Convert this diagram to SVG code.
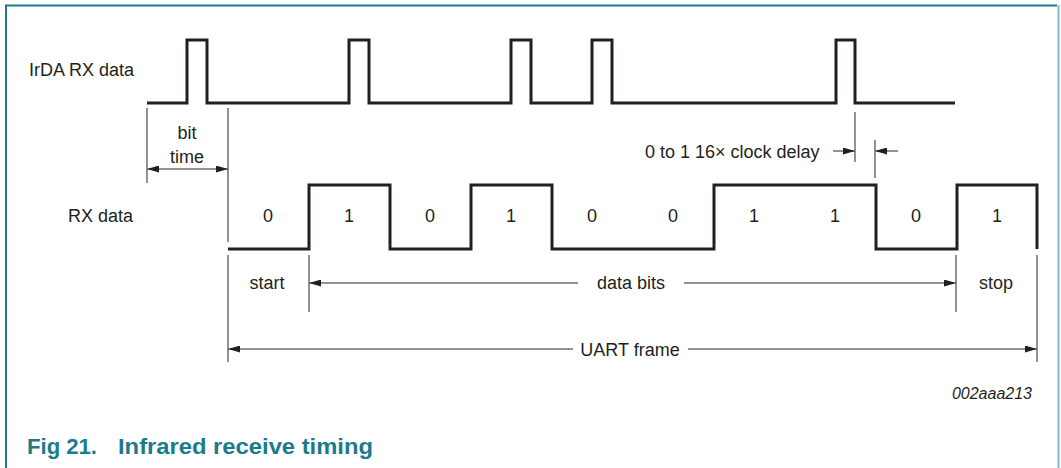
<svg xmlns="http://www.w3.org/2000/svg" width="1061" height="468" viewBox="0 0 1061 468">
<style>
.sig{fill:none;stroke:#231f20;stroke-width:3;stroke-linejoin:miter}
.dim{fill:none;stroke:#6d6e71;stroke-width:1.5}
.t{font-family:"Liberation Sans",Arial,sans-serif;font-size:18px;fill:#231f20}
.c{text-anchor:middle}
.ref{font-family:"Liberation Sans",Arial,sans-serif;font-size:16px;font-style:italic;fill:#231f20;text-anchor:end}
.cap{font-family:"Liberation Sans",Arial,sans-serif;font-size:22px;font-weight:bold;fill:#1b7a8c}
</style>
<defs>
<marker id="ah" viewBox="0 0 12 7" refX="12" refY="3.5" markerWidth="12" markerHeight="7" markerUnits="userSpaceOnUse" orient="auto-start-reverse">
<path d="M0,0 L12,3.5 L0,7 Z" fill="#231f20"/>
</marker>
</defs>
<rect width="1061" height="468" fill="#fff"/>
<g id="frame">
<path d="M6,468 V5.5 H1057" fill="none" stroke="#1b7a8c" stroke-width="2"/>
<line x1="1058.5" y1="5" x2="1058.5" y2="468" stroke="#7fbccb" stroke-width="2"/>
</g>
<g id="irda">
<text class="t" x="29" y="76">IrDA RX data</text>
<path class="sig" d="M147,103 H187 V40 H207 V103 H349 V40 H369 V103 H511 V40 H531 V103 H592 V40 H612 V103 H836 V40 H855 V103 H955"/>
</g>
<g id="rx">
<text class="t" x="68" y="222">RX data</text>
<path class="sig" d="M228,249 H309 V185 H390 V249 H471 V185 H552 V249 H714 V185 H876 V249 H957 V185 H1037 V249"/>
<g class="t c">
<text x="268" y="222">0</text>
<text x="349" y="222">1</text>
<text x="430" y="222">0</text>
<text x="511" y="222">1</text>
<text x="592" y="222">0</text>
<text x="673" y="222">0</text>
<text x="754" y="222">1</text>
<text x="835" y="222">1</text>
<text x="916" y="222">0</text>
<text x="997" y="222">1</text>
</g>
</g>
<g id="labels">
<text class="t c" x="187" y="139">bit</text>
<text class="t c" x="187" y="163">time</text>
<text class="t" x="645" y="158">0 to 1 16× clock delay</text>
<text class="t c" x="267" y="289">start</text>
<text class="t c" x="631" y="289">data bits</text>
<text class="t c" x="996" y="289">stop</text>
<text class="t c" x="630" y="356">UART frame</text>
<text class="ref" x="1032" y="399">002aaa213</text>
</g>
<g id="connectors">
<line class="dim" x1="147" y1="108" x2="147" y2="183"/>
<line class="dim" x1="228" y1="108" x2="228" y2="242"/>
<line class="dim" x1="228" y1="255" x2="228" y2="362"/>
<line class="dim" x1="147" y1="169" x2="228" y2="169" marker-start="url(#ah)" marker-end="url(#ah)"/>
<line class="dim" x1="855" y1="112" x2="855" y2="162"/>
<line class="dim" x1="875" y1="140" x2="875" y2="178"/>
<line class="dim" x1="833" y1="151" x2="855" y2="151" marker-end="url(#ah)"/>
<line class="dim" x1="898" y1="151" x2="875" y2="151" marker-end="url(#ah)"/>
<line class="dim" x1="309" y1="255" x2="309" y2="312"/>
<line class="dim" x1="956" y1="255" x2="956" y2="312"/>
<line class="dim" x1="1037" y1="255" x2="1037" y2="362"/>
<line class="dim" x1="578" y1="283" x2="309" y2="283" marker-end="url(#ah)"/>
<line class="dim" x1="684" y1="283" x2="956" y2="283" marker-end="url(#ah)"/>
<line class="dim" x1="573" y1="349" x2="228" y2="349" marker-end="url(#ah)"/>
<line class="dim" x1="688" y1="349" x2="1037" y2="349" marker-end="url(#ah)"/>
</g>
<g id="caption">
<text class="cap" x="27" y="454" textLength="70" lengthAdjust="spacingAndGlyphs">Fig 21.</text>
<text class="cap" x="118" y="454" textLength="255" lengthAdjust="spacingAndGlyphs">Infrared receive timing</text>
</g>
</svg>
